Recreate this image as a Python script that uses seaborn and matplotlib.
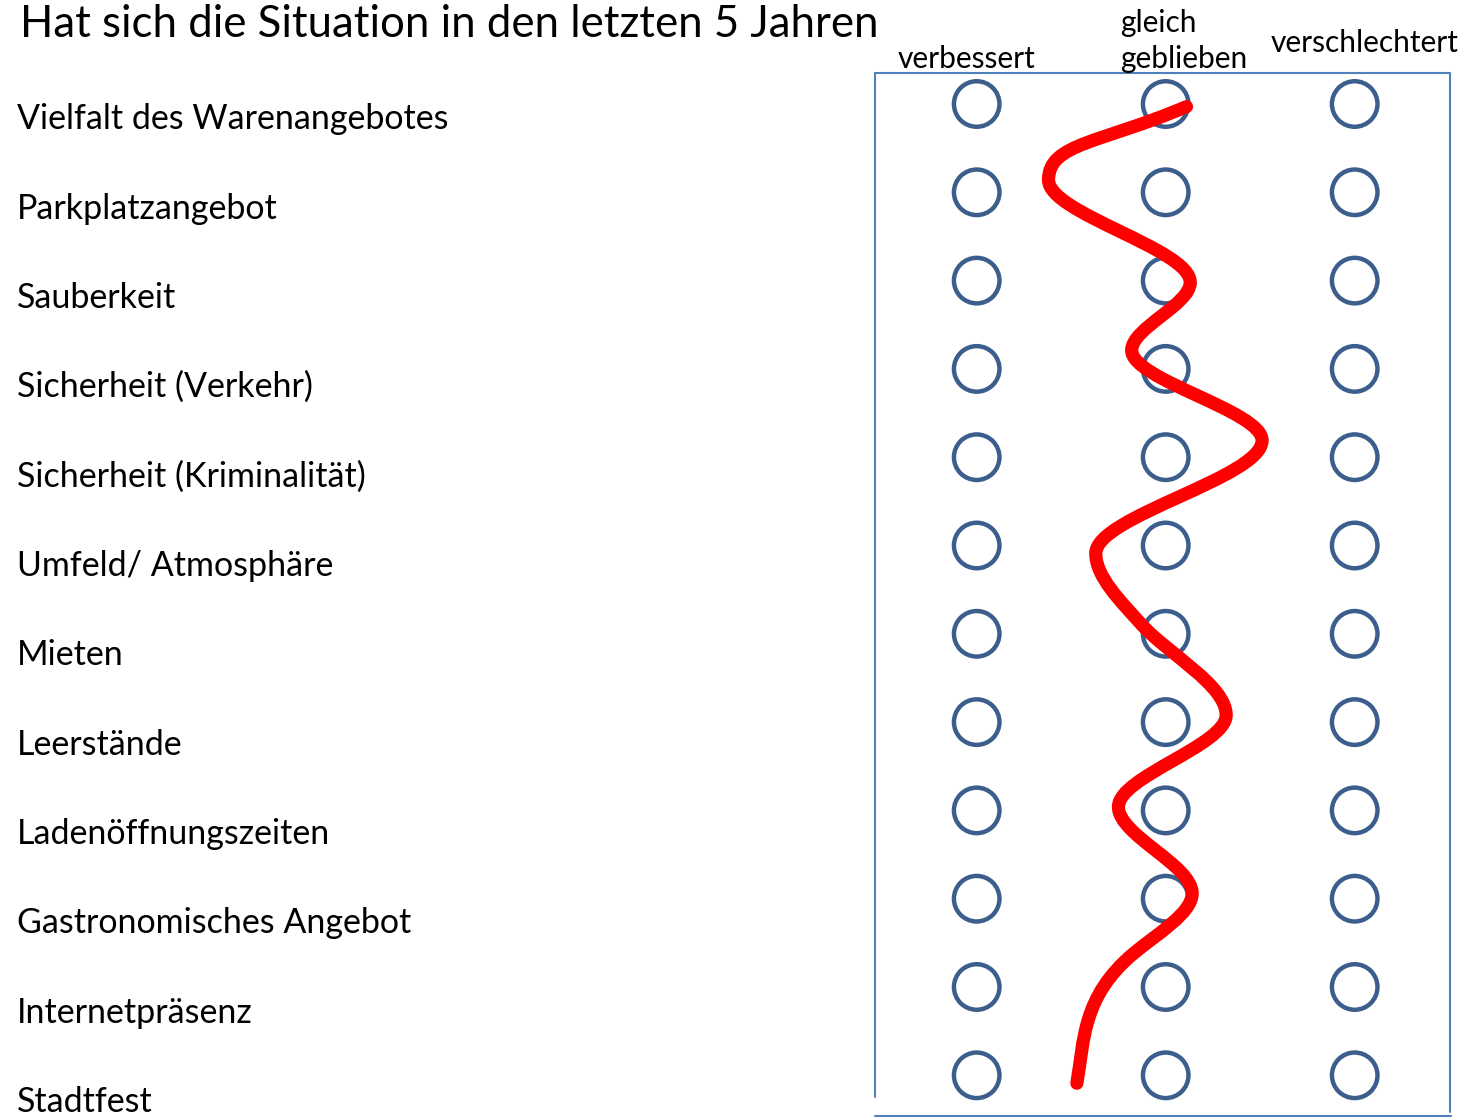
import numpy as np
import pandas as pd
import seaborn as sns
import matplotlib.pyplot as plt
import matplotlib.transforms as mtransforms
from matplotlib.path import Path
from matplotlib.patches import PathPatch

# Fragebogen
titel = "Hat sich die Situation in den letzten 5 Jahren"
kriterien = ["Vielfalt des Warenangebotes", "Parkplatzangebot", "Sauberkeit",
             "Sicherheit (Verkehr)", "Sicherheit (Kriminalität)", "Umfeld/ Atmosphäre",
             "Mieten", "Leerstände", "Ladenöffnungszeiten", "Gastronomisches Angebot",
             "Internetpräsenz", "Stadtfest"]
antworten = ["verbessert", "gleich\ngeblieben", "verschlechtert"]

# rote Linie: Position auf der Antwortskala (0..2) je Zeile, plus Steigung d(Antwort)/d(Zeile)
linie_antwort = [1.11, 0.38, 1.13, 0.82, 1.51, 0.63, 0.87, 1.32, 0.75, 1.14, 0.83, 0.53]
linie_zeile = [0.03, 0.86, 2.02, 2.79, 3.81, 5.09, 5.89, 6.92, 7.96, 8.94, 9.62, 11.09]
linie_steigung = [-1.10, 0, 0, 0, 0, 0, 0.42, 0, 0, 0, -0.56, -0.08]

W, H = 1465, 1118
sns.set_theme(style="white")
plt.rcParams['font.family'] = ['Lato', 'DejaVu Sans']
plt.rcParams['text.color'] = 'black'

fig = plt.figure(figsize=(W / 100, H / 100), dpi=100)
ax = fig.add_axes([0, 0, 1, 1])
# Pixel-Koordinaten (Ursprung oben links) fuer Rahmen und Beschriftung
tpx = mtransforms.Affine2D().scale(1 / W, -1 / H).translate(0, 1) + fig.transFigure

# Kreise
df = pd.DataFrame([(a, z) for z in range(len(kriterien)) for a in range(len(antworten))],
                  columns=["antwort", "zeile"])
sns.scatterplot(data=df, x="antwort", y="zeile", marker="o", s=1075,
                facecolor="none", edgecolor="#3b5e8c", linewidth=3.2, ax=ax, zorder=2)

# rote Linie als Bezier-Kurve durch die Punkte
verts = [(linie_antwort[0], linie_zeile[0])]
codes = [Path.MOVETO]
for i in range(len(linie_zeile) - 1):
    x0, y0, s0 = linie_antwort[i], linie_zeile[i], linie_steigung[i]
    x1, y1, s1 = linie_antwort[i + 1], linie_zeile[i + 1], linie_steigung[i + 1]
    k = 0.5 if i == 0 else 0.33
    h = k * (y1 - y0)
    verts += [(x0 + s0 * h, y0 + h), (x1 - s1 * h, y1 - h), (x1, y1)]
    codes += [Path.CURVE4] * 3
ax.add_patch(PathPatch(Path(verts, codes), facecolor="none", edgecolor="#ff0000",
                       linewidth=9.5, capstyle="round", joinstyle="round", zorder=3))

# Zeilenbeschriftung
for i, k_ in enumerate(kriterien):
    ax.text(-5.078, 0.285 + 1.012 * i, k_, fontsize=24.5, va="baseline", ha="left",
            color="black")

ax.set_xlim((0 - 976.7) / 189, (W - 976.7) / 189)
ax.set_ylim((H - 104) / 88.3, (0 - 104) / 88.3)
ax.axis("off")

# Rahmen
rahmen = "#4f81bd"
ax.plot([875, 1450], [73, 73], color=rahmen, lw=1.5, transform=tpx)
ax.plot([875, 875], [73, 1097], color=rahmen, lw=1.5, transform=tpx)
ax.plot([1450, 1450], [73, 1112], color=rahmen, lw=1.5, transform=tpx)
ax.plot([875, 1451], [1116, 1116], color=rahmen, lw=1.5, transform=tpx)

# Titel und Spaltenkoepfe
ax.text(20, 37, titel, fontsize=31.5, ha="left", va="baseline", color="black", transform=tpx)
oben, unten = antworten[1].split("\n")
ax.text(967, 68, antworten[0], fontsize=21.5, ha="center", va="baseline", color="black", transform=tpx)
ax.text(1120, 32, oben, fontsize=21.5, ha="left", va="baseline", color="black", transform=tpx)
ax.text(1120, 68, unten, fontsize=21.5, ha="left", va="baseline", color="black", transform=tpx)
ax.text(1365, 52, antworten[2], fontsize=21.5, ha="center", va="baseline", color="black", transform=tpx)

plt.savefig("out.png", dpi=100)
